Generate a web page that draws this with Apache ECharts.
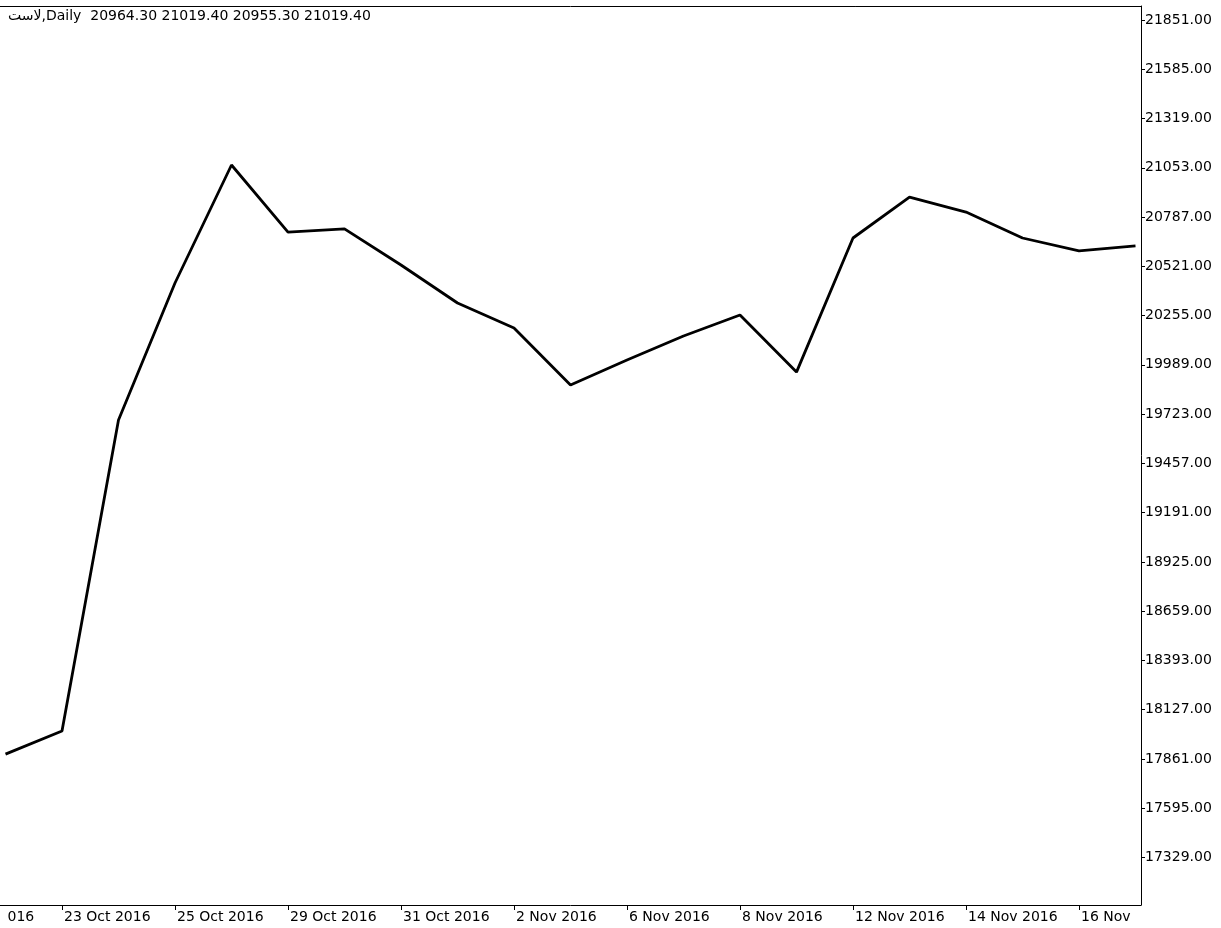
<!DOCTYPE html>
<html>
<head>
<meta charset="utf-8">
<script src="https://cdn.jsdelivr.net/npm/echarts@6/dist/echarts.min.js"></script>
<style>
  html, body { margin: 0; padding: 0; background: #fff; }
  #chart { width: 1221px; height: 928px; }
</style>
</head>
<body>
<div id="chart"></div>
<script>
// Trading days shown on the chart (one point per day)
const dates = ['22 Oct 2016','23 Oct 2016','24 Oct 2016','25 Oct 2016','26 Oct 2016','29 Oct 2016','30 Oct 2016','31 Oct 2016','1 Nov 2016','2 Nov 2016','5 Nov 2016','6 Nov 2016','7 Nov 2016','8 Nov 2016','9 Nov 2016','12 Nov 2016','13 Nov 2016','14 Nov 2016','15 Nov 2016','16 Nov 2016','19 Nov 2016'];
// Closing prices
const closes = [17887, 18012, 19691, 20431, 21068, 20706, 20723, 20528, 20323, 20188, 19880, 20015, 20145, 20258, 19950, 20674, 20895, 20814, 20674, 20604, 20631];
// Time-axis labels as visible, and the day index each one belongs to
const xTickLabels = ['016','23 Oct 2016','25 Oct 2016','29 Oct 2016','31 Oct 2016','2 Nov 2016','6 Nov 2016','8 Nov 2016','12 Nov 2016','14 Nov 2016','16 Nov'];
const xTickIndex = [0, 1, 3, 5, 7, 9, 11, 13, 15, 17, 19];
// Price-axis tick labels
const yTicks = [17329, 17595, 17861, 18127, 18393, 18659, 18925, 19191, 19457, 19723, 19989, 20255, 20521, 20787, 21053, 21319, 21585, 21851];
const headerText = 'لاست,Daily  20964.30 21019.40 20955.30 21019.40';

const FONT = 'DejaVu Sans';
const chart = echarts.init(document.getElementById('chart'), null, { renderer: 'canvas' });

const xMin = -0.0973, xMax = dates.length - 1 + 0.0973;

chart.setOption({
  animation: false,
  backgroundColor: '#ffffff',
  title: {
    text: headerText,
    left: 8, top: 9, padding: 0,
    textStyle: { fontFamily: FONT, fontSize: 14, fontWeight: 'normal', color: '#000' }
  },
  grid: { left: 0, right: 80, top: 6, bottom: 23, containLabel: false },
  xAxis: [
    {
      type: 'value', position: 'bottom', min: xMin, max: xMax,
      splitLine: { show: false },
      axisLine: { show: true, onZero: false, lineStyle: { color: '#000', width: 1 } },
      axisTick: { show: true, length: 5, lineStyle: { color: '#000' },
        customValues: xTickIndex.filter(i => i > 0) },
      axisLabel: {
        show: true, align: 'left', margin: 5, padding: [0, 0, 0, 2],
        fontFamily: FONT, fontSize: 14, color: '#000',
        customValues: xTickIndex,
        formatter: (v) => {
          const k = xTickIndex.indexOf(Math.round(v));
          return k >= 0 ? xTickLabels[k] : '';
        }
      }
    },
    {
      type: 'value', position: 'top', min: xMin, max: xMax,
      splitLine: { show: false },
      axisLine: { show: true, onZero: false, lineStyle: { color: '#000', width: 1 } },
      axisTick: { show: false },
      axisLabel: { show: false }
    }
  ],
  yAxis: {
    type: 'value', position: 'right', min: 17072.6, max: 21926.6,
    splitLine: { show: false },
    axisLine: { show: true, onZero: false, lineStyle: { color: '#000', width: 1 } },
    axisTick: { show: true, inside: false, length: 4, lineStyle: { color: '#000' },
      customValues: yTicks },
    axisLabel: {
      show: true, margin: 4, fontFamily: FONT, fontSize: 14, color: '#000',
      customValues: yTicks,
      formatter: (v) => Number(v).toFixed(2)
    }
  },
  series: [{
    type: 'line',
    xAxisIndex: 0, yAxisIndex: 0,
    data: closes.map((c, i) => [i, c]),
    symbol: 'none',
    lineStyle: { color: '#000', width: 2.8 },
    clip: true
  }]
});
</script>
</body>
</html>
